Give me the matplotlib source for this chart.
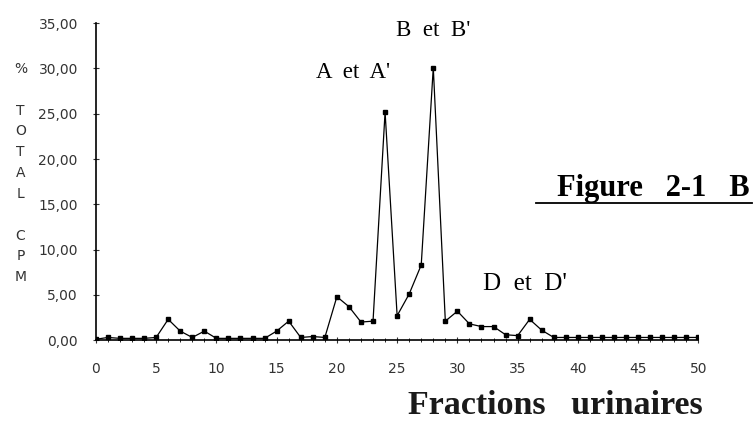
import matplotlib
matplotlib.use("Agg")
import matplotlib.pyplot as plt
from matplotlib.ticker import FuncFormatter, MultipleLocator

# fraction number and % of total CPM
fractions = list(range(0, 51))
pct_cpm = [0.1, 0.3, 0.2, 0.2, 0.2, 0.3, 2.3, 1.0, 0.3, 1.0,
           0.2, 0.2, 0.2, 0.2, 0.2, 1.0, 2.1, 0.3, 0.4, 0.3,
           4.8, 3.7, 2.0, 2.1, 25.2, 2.7, 5.1, 8.3, 30.1, 2.1,
           3.2, 1.8, 1.5, 1.5, 0.6, 0.5, 2.3, 1.1, 0.3, 0.3,
           0.3, 0.3, 0.3, 0.3, 0.3, 0.3, 0.3, 0.3, 0.3, 0.3, 0.3]

y_ticks = [0, 5, 10, 15, 20, 25, 30, 35]
x_ticks = [0, 5, 10, 15, 20, 25, 30, 35, 40, 45, 50]

fig = plt.figure(figsize=(7.55, 4.21), dpi=100)
ax = fig.add_axes([0.127, 0.192, 0.798, 0.753])

ax.plot(fractions, pct_cpm, color="black", linewidth=0.9,
        marker="s", markersize=2.6, markerfacecolor="black")

ax.set_xlim(0, 50)
ax.set_ylim(0, 35)
for s in ["top", "right"]:
    ax.spines[s].set_visible(False)
ax.spines["left"].set_linewidth(1.2)
ax.spines["bottom"].set_linewidth(1.2)

ax.set_xticks(x_ticks)
ax.set_yticks(y_ticks)
ax.xaxis.set_minor_locator(MultipleLocator(1))
ax.yaxis.set_minor_locator(MultipleLocator(1))
ax.yaxis.set_major_formatter(FuncFormatter(lambda v, p: f"{v:.2f}".replace(".", ",")))
ax.tick_params(axis="x", which="major", direction="inout", length=4, pad=14,
               labelsize=10, colors="#333333")
ax.tick_params(axis="x", which="minor", direction="inout", length=3)
ax.tick_params(axis="y", which="major", direction="inout", length=4, pad=11,
               labelsize=10, colors="#333333")
ax.tick_params(axis="y", which="minor", length=0)

# vertical axis label, one letter per line
fig.text(0.027, 1 - 62 / 421, "%\n\nT\nO\nT\nA\nL\n\nC\nP\nM", ha="center", va="top",
         fontsize=10, linespacing=1.62, color="#333333", family="DejaVu Sans")

serif = "Liberation Serif"
ax.text(24.4, 29.6, "A  et  A'", ha="right", va="center", fontsize=16.5, family=serif)
ax.text(28.0, 34.2, "B  et  B'", ha="center", va="center", fontsize=16.5, family=serif)
ax.text(35.6, 6.2, "D  et  D'", ha="center", va="center", fontsize=18, family=serif)

fig.text(750 / 755, 1 - 196 / 421, "Figure   2-1   B", ha="right", va="baseline",
         fontsize=22, fontweight="bold", family=serif)
fig.add_artist(plt.Line2D([536 / 755, 752 / 755], [1 - 203 / 421] * 2,
                          color="black", linewidth=1.3))
fig.text(703 / 755, 1 - 414 / 421, "Fractions   urinaires", ha="right", va="baseline",
         fontsize=24.5, fontweight="bold", family=serif, color="#1a1a1a")

fig.savefig("out.png", dpi=100)
